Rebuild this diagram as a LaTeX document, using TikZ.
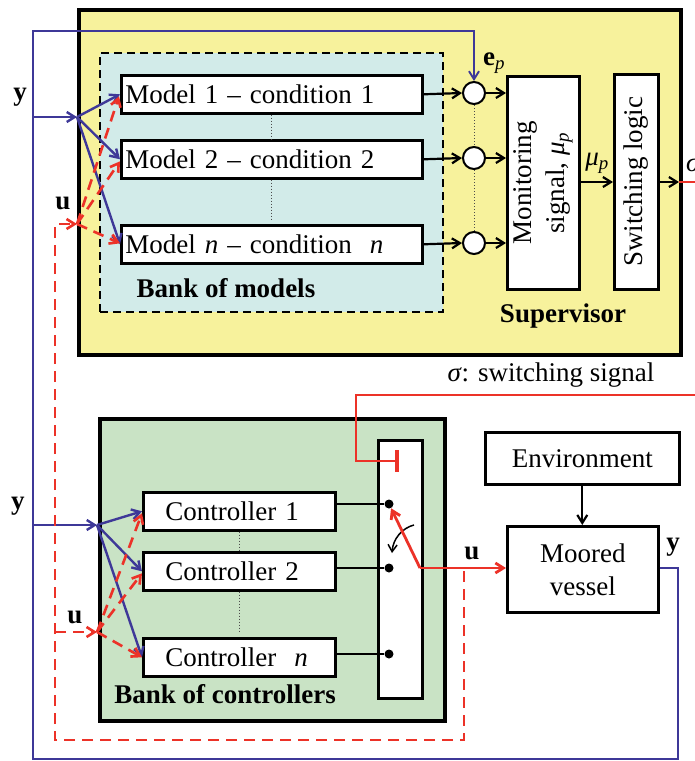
\documentclass[tikz,border=0pt]{standalone}
\usepackage{fontspec}
\setmainfont{Liberation Serif}
\usetikzlibrary{arrows.meta,calc}
\definecolor{supy}{RGB}{247,242,156}
\definecolor{modc}{RGB}{210,235,233}
\definecolor{ctlg}{RGB}{201,227,197}
\definecolor{sigb}{RGB}{62,56,152}
\definecolor{sigr}{RGB}{236,50,40}
\tikzset{
 fs/.style={font=\fontsize{27}{33}\selectfont},
 lbl/.style={font=\fontsize{27}{33}\selectfont\bfseries, inner sep=0pt},
 blk/.style={draw=black, line width=2.6pt, fill=white, inner sep=0pt, fs, anchor=north west},
 bl/.style={draw=sigb, line width=2.4pt},
 blthin/.style={draw=sigb, line width=1.9pt},
 rd/.style={draw=sigr, line width=2.8pt},
 rdd/.style={draw=sigr, line width=2.6pt, dash pattern=on 11pt off 7pt},
 arr/.style={-{Straight Barb[length=8pt,width=10pt]}},
 bk/.style={draw=black, line width=2.2pt},
 dotl/.style={draw=black!70, line width=1pt, dotted},
 sumc/.style={circle, draw=black, line width=2pt, fill=white, minimum size=22pt, inner sep=0pt},
 pin/.style={circle, fill=black, minimum size=9pt, inner sep=0pt},
}
\begin{document}
\begin{tikzpicture}[x=1pt,y=-1pt]
\useasboundingbox (0,0) rectangle (695,761);

% Supervisor
\node[draw=black, line width=4.4pt, fill=supy, minimum width=602pt, minimum height=345pt, anchor=north west, inner sep=0pt] (sup) at (77,8) {};
\node[draw=black, line width=2.2pt, dash pattern=on 8pt off 5pt, fill=modc, minimum width=343pt, minimum height=259pt, anchor=north west, inner sep=0pt] (bom) at (99,52) {};
\node[lbl] (bomt) at (226,288) {Bank of models};
\node[lbl] (supt) at (563,316) {Supervisor};

\node[blk, minimum height=38pt, text width=293pt, inner xsep=4pt, align=left] (m1) at (120,74) {Model 1 -- condition 1};
\node[blk, minimum height=38pt, text width=293pt, inner xsep=4pt, align=left] (m2) at (120,139) {Model 2 -- condition 2};
\node[blk, minimum height=38pt, text width=293pt, inner xsep=4pt, align=left] (mn) at (120,224) {Model \textit{n} -- condition \ \textit{n}};

\draw[dotl] (m1.south) -- (m2.north);
\draw[dotl] (m2.south) -- ($(mn.north)+(0,-3)$);

\node[sumc] (s1) at (474,93) {};
\node[sumc] (s2) at (474,158) {};
\node[sumc] (sn) at (474,243) {};
\draw[dotl] (s1.south) -- (s2.north);
\draw[dotl] (s2.south) -- (sn.north);

\node[blk, minimum width=72pt, minimum height=213pt] (mon) at (506,75) {};
\node[fs, rotate=90, align=center, inner sep=0pt] (mont) at (mon.center) {Monitoring\\signal, \textit{μ}\textsubscript{\textit{p}}};
\node[blk, minimum width=44pt, minimum height=215pt] (swl) at (613,73) {};
\node[fs, rotate=90, inner sep=0pt] (swlt) at (swl.center) {Switching logic};

\draw[bk, arr] (m1.east) -- (s1.west);
\draw[bk, arr] (m2.east) -- (s2.west);
\draw[bk, arr] (mn.east) -- (sn.west);
\draw[bk, arr] (s1.east) -- (s1.east -| mon.west);
\draw[bk, arr] (s2.east) -- (s2.east -| mon.west);
\draw[bk, arr] (sn.east) -- (sn.east -| mon.west);
\coordinate (mu) at (578,182);
\draw[bk, arr] (mu) -- (mu -| swl.west);
\node[fs, inner sep=0pt] (mul) at (597,163) {\textit{μ}\textsubscript{\textit{p}}};
\coordinate (so) at (657,182);
\coordinate (sb) at (679,182);
\coordinate (se) at (700,182);
\draw[bk, arr] (so) -- (sb);
\draw[rd] (sb) -- (se);
\node[fs, inner sep=0pt, anchor=west] (sigl) at (686,165) {\textit{σ}};

\node[fs, inner sep=0pt] (epl) at (494,63) {\textbf{e}\textsubscript{\textit{p}}};

% switching signal
\node[fs, inner sep=0pt] (ssl) at (551,375) {\textit{σ}: switching signal};

% Bank of controllers
\node[draw=black, line width=4.4pt, fill=ctlg, minimum width=345pt, minimum height=302pt, anchor=north west, inner sep=0pt] (boc) at (98,417) {};
\node[lbl] (boct) at (225,694) {Bank of controllers};
\node[blk, minimum width=44pt, minimum height=258pt] (swb) at (377,439) {};

\node[blk, minimum height=38pt, text width=148pt, inner xsep=22pt, align=left] (c1) at (142,491) {Controller 1};
\node[blk, minimum height=38pt, text width=148pt, inner xsep=22pt, align=left] (c2) at (142,551) {Controller 2};
\node[blk, minimum height=38pt, text width=148pt, inner xsep=22pt, align=left] (cn) at (142,637) {Controller \ \textit{n}};
\draw[dotl] (c1.south) -- (c2.north);
\draw[dotl] (c2.south) -- ($(cn.north)+(0,-4)$);

\node[pin] (p1) at (389,504) {};
\node[pin] (p2) at (389,568) {};
\node[pin] (pn) at (389,654) {};
\draw[draw=black, line width=1.6pt] (p1 -| c1.east) -- (p1);
\draw[draw=black, line width=1.6pt] (p2 -| c2.east) -- (p2);
\draw[draw=black, line width=1.6pt] (pn -| cn.east) -- (pn);

\draw[draw=black, line width=1.5pt, -{Straight Barb[length=7pt,width=9pt]}] (414,525) .. controls (402,528) and (393,539) .. (392,553);

% Environment and vessel
\node[blk, minimum width=194pt, minimum height=52pt, anchor=north west] (env) at (484,431) {};
\node[fs, inner sep=0pt] (envt) at (env.center) {Environment};
\node[blk, minimum width=151pt, minimum height=86pt, anchor=north west] (ves) at (506,525) {};
\node[fs, inner sep=0pt, align=center] (vest) at (ves.center) {Moored\\vessel};
\draw[bk, arr] (env.south) -- (env.south |- ves.north);

% switch arm and control output
\coordinate (arm) at (420,568);
\draw[rd, -{Straight Barb[length=8pt,width=10pt]}] (arm) -- (p1);
\draw[rd, arr] (arm) -- (ves.west |- arm);
\node[lbl] (ul3) at (472,553) {u};

% switching signal red line
\coordinate (r0) at (700,395);
\coordinate (r1) at (356,395);
\coordinate (r2) at (356,461);
\coordinate (r3) at (399,461);
\draw[rd, -{Bar[width=22pt, line width=4pt]}] (r0) -- (r1) -- (r2) -- (r3);

% measurement y (blue)
\coordinate (yo) at (678,568);
\coordinate (yb) at (678,759);
\coordinate (yl) at (33,759);
\coordinate (yt) at (33,31);
\coordinate (ytr) at (474,31);
\draw[blthin, arr] (ves.east |- yo) -- (yo) -- (yb) -- (yl) -- (yt) -- (ytr) -- (s1.north);
\node[lbl] (yl3) at (673,547) {y};

\coordinate (y1) at (33,117);
\coordinate (jm) at (77,117);
\draw[bl, arr] (y1) -- (jm);
\draw[bl, arr] (jm) -- (m1.west);
\draw[bl, arr] (jm) -- (m2.west);
\draw[bl, arr] (jm) -- (mn.west);
\node[lbl] (yl1) at (20,97) {y};

\coordinate (y2) at (33,525);
\coordinate (jy) at (97,525);
\draw[bl, arr] (y2) -- (jy);
\draw[bl, arr] (jy) -- (c1.west);
\draw[bl, arr] (jy) -- (c2.west);
\draw[bl, arr] (jy) -- (cn.west);
\node[lbl] (yl2) at (18,506) {y};

% control u feedback (red dashed)
\coordinate (u0) at (464,571);
\coordinate (u1) at (464,740);
\coordinate (u2) at (55,740);
\coordinate (u3) at (55,224);
\coordinate (ju) at (77,224);
\draw[rdd, arr] (u0) -- (u1) -- (u2) -- (u3) -- (ju);
\draw[rdd, arr] (ju) -- ($(m1.west)+(-1,2)$);
\draw[rdd, arr] (ju) -- ($(m2.west)+(0,2)$);
\draw[rdd, arr] (ju) -- ($(mn.west)+(0,-1)$);
\node[lbl] (ul1) at (63,203) {u};

\coordinate (u4) at (55,632);
\coordinate (jc) at (97,632);
\draw[rdd, arr] (u4) -- (jc);
\draw[rdd, arr] (jc) -- ($(c1.west)+(0,2)$);
\draw[rdd, arr] (jc) -- ($(c2.west)+(0,2)$);
\draw[rdd, arr] (jc) -- (cn.west);
\node[lbl] (ul2) at (75,617) {u};
\end{tikzpicture}
\end{document}
